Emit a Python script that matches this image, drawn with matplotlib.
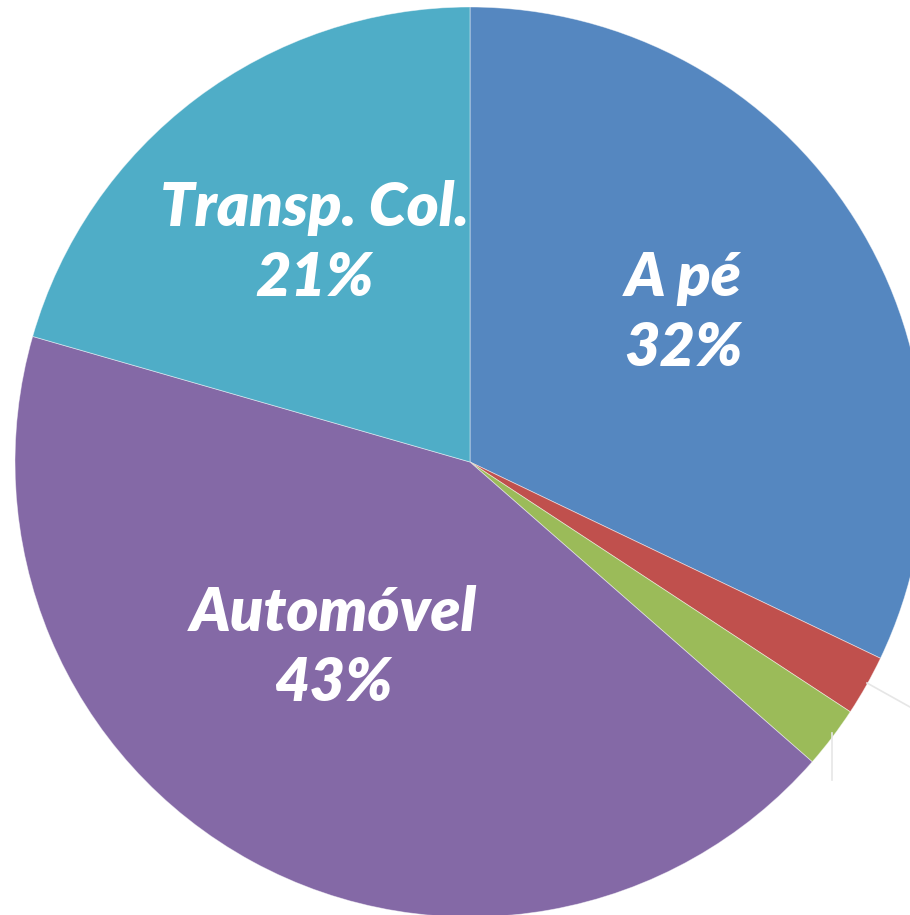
import matplotlib
matplotlib.use("Agg")
import matplotlib.pyplot as plt

categories = ["A pé", "Bicicleta", "Motocicleta", "Automóvel", "Transp. Col."]
values = [32.1, 2.15, 2.2, 43.0, 20.55]
labels_pct = ["32%", "2%", "2%", "43%", "21%"]
colors = ["#5587C0", "#C0504D", "#9BBB59", "#8469A6", "#4FADC7"]

W, H = 910, 915
fig = plt.figure(figsize=(W / 100, H / 100), dpi=100)
ax = fig.add_axes([0, 0, 1, 1])

cx, cy, r = 470, H - 462, 455
wedges, _ = ax.pie(values, colors=colors, startangle=90, counterclock=False,
                   center=(cx, cy), radius=r, frame=True,
                   wedgeprops=dict(linewidth=0.6, edgecolor=(1, 1, 1, 0.5)))
ax.set_xlim(0, W)
ax.set_ylim(0, H)
ax.set_aspect("equal")
ax.axis("off")

# faint leader lines for the small slices
ax.plot([867, 910], [H - 683, H - 707], color="#E6E6E6", lw=1.2)
ax.plot([832, 832], [H - 733, H - 780], color="#E6E6E6", lw=1.2)

font = dict(family=["Lato", "DejaVu Sans"], fontsize=44, fontweight="heavy",
            fontstyle="italic", color="white", ha="center", va="center",
            linespacing=1.32)
ax.text(683, H - 313, f"{categories[0]}\n{labels_pct[0]}", **font)
ax.text(315, H - 243, f"{categories[4]}\n{labels_pct[4]}", **font)
ax.text(333, H - 648, f"{categories[3]}\n{labels_pct[3]}", **font)

fig.savefig("out.png", dpi=100)
